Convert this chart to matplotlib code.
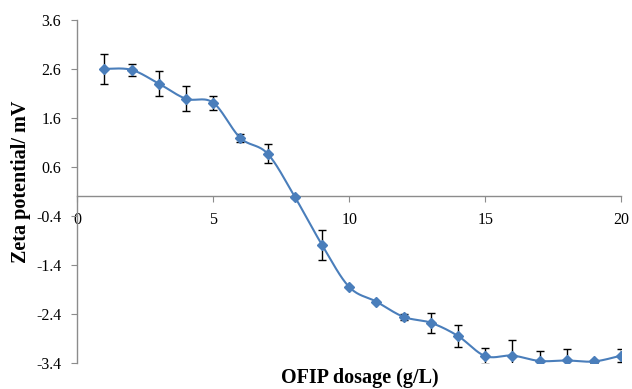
import numpy as np
import matplotlib
matplotlib.use('Agg')
import matplotlib.pyplot as plt

dosage = [1, 2, 3, 4, 5, 6, 7, 8, 9, 10, 11, 12, 13, 14, 15, 16, 17, 18, 19, 20]
zeta = [2.60, 2.58, 2.30, 1.99, 1.91, 1.19, 0.87, -0.01, -0.99, -1.85, -2.15, -2.46,
        -2.58, -2.85, -3.26, -3.25, -3.36, -3.35, -3.37, -3.25]
zeta_err = [0.30, 0.12, 0.25, 0.25, 0.14, 0.08, 0.20, 0.02, 0.30, 0.0, 0.0, 0.06,
            0.20, 0.23, 0.16, 0.31, 0.20, 0.23, 0.03, 0.13]

line_color = '#4A7EBB'
axis_color = '#8C8C8C'

plt.rcParams['font.family'] = ['Liberation Serif', 'DejaVu Serif']


def smooth_curve(x, y, n=30):
    # Excel-like smoothed line: cubic bezier through points, tension 1/6
    x = np.asarray(x, dtype=float)
    y = np.asarray(y, dtype=float)
    xs, ys = [x[0]], [y[0]]
    t = np.linspace(0, 1, n)[1:]
    for i in range(len(x) - 1):
        x0, y0 = (x[i - 1], y[i - 1]) if i > 0 else (x[i], y[i])
        x3, y3 = (x[i + 2], y[i + 2]) if i + 2 < len(x) else (x[i + 1], y[i + 1])
        p0 = np.array([x[i], y[i]])
        p3 = np.array([x[i + 1], y[i + 1]])
        p1 = p0 + (p3 - np.array([x0, y0])) / 6
        p2 = p3 - (np.array([x3, y3]) - p0) / 6
        bx = (1 - t)**3 * p0[0] + 3 * (1 - t)**2 * t * p1[0] + 3 * (1 - t) * t**2 * p2[0] + t**3 * p3[0]
        by = (1 - t)**3 * p0[1] + 3 * (1 - t)**2 * t * p1[1] + 3 * (1 - t) * t**2 * p2[1] + t**3 * p3[1]
        xs.extend(bx)
        ys.extend(by)
    return np.array(xs), np.array(ys)


fig = plt.figure(figsize=(6.32, 3.89), dpi=100)
ax = fig.add_axes([0.122, 0.067, 0.861, 0.882])

sx, sy = smooth_curve(dosage, zeta)
ax.plot(sx, sy, color=line_color, lw=1.5, zorder=3)
ax.errorbar(dosage, zeta, yerr=zeta_err, fmt='none', ecolor='black', elinewidth=1,
            capsize=3, capthick=1, zorder=2)
ax.plot(dosage, zeta, 'D', color=line_color, ms=5.5, zorder=4)

ax.set_xlim(0, 20)
ax.set_ylim(-3.4, 3.6)
ax.set_xticks([0, 5, 10, 15, 20])
ax.set_yticks(np.arange(-3.4, 3.61, 1.0))
ax.set_yticklabels([f'{v:.1f}' for v in np.arange(-3.4, 3.61, 1.0)])

ax.spines['top'].set_visible(False)
ax.spines['right'].set_visible(False)
ax.spines['bottom'].set_position(('data', 0))
for s in ['left', 'bottom']:
    ax.spines[s].set_color(axis_color)
    ax.spines[s].set_linewidth(1)
ax.tick_params(axis='both', colors=axis_color, labelcolor='black', labelsize=11.5, length=4)
ax.tick_params(axis='x', pad=7)
ax.tick_params(axis='y', pad=7.5)

fig.text(0.570, 0.028, 'OFIP dosage (g/L)', ha='center', va='center',
         fontsize=14.5, fontweight='bold')
fig.text(0.033, 0.532, 'Zeta potential/ mV', ha='center', va='center',
         rotation=90, fontsize=14.5, fontweight='bold')

fig.savefig('out.png', dpi=100)
